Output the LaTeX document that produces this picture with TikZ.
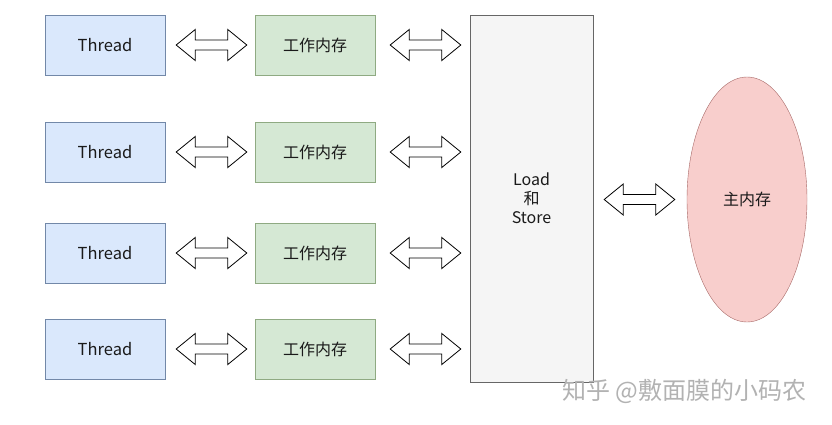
\documentclass[tikz,border=0pt]{standalone}
\usepackage{fontspec}
\setmainfont{Noto Sans CJK SC}
\usetikzlibrary{calc}
\definecolor{tblue}{HTML}{DAE8FC}
\definecolor{tbluel}{HTML}{7288A8}
\definecolor{tgreen}{HTML}{D5E8D4}
\definecolor{tgreenl}{HTML}{8FAA82}
\definecolor{tgray}{HTML}{F5F5F5}
\definecolor{tgrayl}{HTML}{666666}
\definecolor{tred}{HTML}{F8CECC}
\definecolor{tredl}{HTML}{A86A68}
\definecolor{ttext}{HTML}{1A1A1A}
\tikzset{
  thr/.style={draw=tbluel, fill=tblue, minimum width=120pt, minimum height=60pt, inner sep=0pt, font=\fontsize{16.5}{19}\selectfont, text=ttext},
  wmem/.style={draw=tgreenl, fill=tgreen, minimum width=120pt, minimum height=60pt, inner sep=0pt, font=\fontsize{16}{19}\selectfont, text=ttext},
  ls/.style={draw=tgrayl, fill=tgray, minimum width=123pt, minimum height=367pt, inner sep=0pt, align=center, font=\fontsize{16}{19}\selectfont, text=ttext},
  mm/.style={draw=tredl, fill=tred, ellipse, minimum width=120pt, minimum height=245pt, inner sep=0pt, font=\fontsize{16}{19}\selectfont, text=ttext},
  barrow/.style={draw=black, fill=white, line width=0.8pt, line join=miter}
}
\usetikzlibrary{shapes.geometric}
% double block arrow between two coordinates at same y
\newcommand{\dbarr}[2]{%
  \draw[barrow] let \p1=(#1), \p2=(#2) in
    (\x1,\y1) -- (\x1+19pt,\y1+15.5pt) -- (\x1+19pt,\y1+5pt) -- (\x2-19pt,\y1+5pt)
    -- (\x2-19pt,\y1+15.5pt) -- (\x2,\y1) -- (\x2-19pt,\y1-15.5pt) -- (\x2-19pt,\y1-5pt)
    -- (\x1+19pt,\y1-5pt) -- (\x1+19pt,\y1-15.5pt) -- cycle;}
\begin{document}
\begin{tikzpicture}[x=1pt,y=-1pt]
\useasboundingbox (0,0) rectangle (832,424);
\fill[white] (0,0) rectangle (832,424);
\node[ls] (L) at (531.5,198.5) {Load\\和\\Store};
\node[mm] (M) at (747,199.5) {主内存};
\foreach \i/\y in {1/45,2/152,3/253,4/349}{
  \node[thr] (t\i) at (105,\y) {Thread};
  \node[wmem] (w\i) at (315,\y) {工作内存};
  \coordinate (a\i) at ($(t\i.east)+(11,0)$);
  \coordinate (b\i) at ($(w\i.west)+(-8,0)$);
  \coordinate (c\i) at ($(w\i.east)+(15,0)$);
  \coordinate (d\i) at ($(L.west |- w\i.east)+(-9,0)$);
  \dbarr{a\i}{b\i}
  \dbarr{c\i}{d\i}
}
\coordinate (e) at ($(L.east |- M.west)+(11,0)$);
\coordinate (f) at ($(M.west)+(-12,0)$);
\dbarr{e}{f}
\node[text=black!30, font=\fontsize{24}{28}\selectfont, anchor=west, inner sep=0pt] (wm) at (562,391) {知乎 @敷面膜的小码农};
\end{tikzpicture}
\end{document}
